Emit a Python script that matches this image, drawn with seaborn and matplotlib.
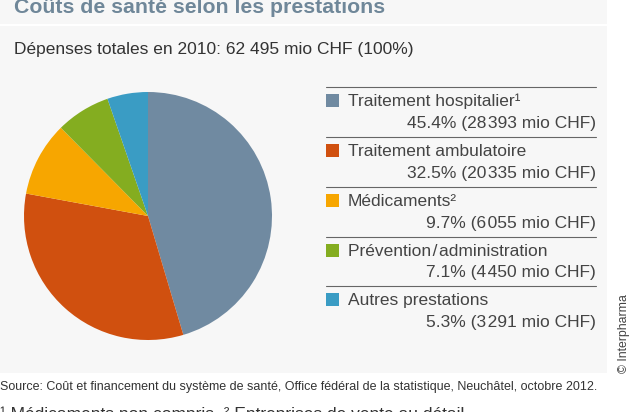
import matplotlib
matplotlib.use('Agg')
import matplotlib.pyplot as plt
from matplotlib.patches import Rectangle
import seaborn as sns

# Data
categories = ['Traitement hospitalier¹', 'Traitement ambulatoire', 'Médicaments²',
              'Prévention\u200a/\u200aadministration', 'Autres prestations']
shares = [45.4, 32.5, 9.7, 7.1, 5.3]
amounts = ['28\u200a393', '20\u200a335', '6\u200a055', '4\u200a450', '3\u200a291']
colors = ['#708AA1', '#D0500F', '#F7A600', '#84AD20', '#3A9CC4']
line_ys = [87, 137, 187, 237, 286]

sns.set_theme(style='white')
plt.rcParams['font.family'] = ['Liberation Sans', 'DejaVu Sans']

W, H = 630, 412
fig = plt.figure(figsize=(W / 100, H / 100), dpi=100, facecolor='white')

# pixel-coordinate overlay for panels and text
bg = fig.add_axes([0, 0, 1, 1])
bg.set_xlim(0, W)
bg.set_ylim(H, 0)
bg.axis('off')

# Background panels
bg.add_patch(Rectangle((0, 0), 607, 24, color='#F7F7F7', lw=0))
bg.add_patch(Rectangle((0, 26), 607, 347, color='#F7F7F7', lw=0))

bg.text(14, 7, 'Coûts de santé selon les prestations', fontsize=15.3, fontweight='bold',
        color='#6F8799', va='center')
bg.text(14, 49, 'Dépenses totales en 2010: 62 495 mio CHF (100%)', fontsize=12.55, color='#333333', va='center')

# Pie chart
cx, cy, r = 148, 216, 124
ax = fig.add_axes([(cx - r) / W, 1 - (cy + r) / H, 2 * r / W, 2 * r / H])
ax.pie(shares, colors=colors, startangle=90, counterclock=False, radius=1,
       wedgeprops={'linewidth': 0})
ax.set_xlim(-1, 1)
ax.set_ylim(-1, 1)

# Legend block
for cat, share, amount, color, y in zip(categories, shares, amounts, colors, line_ys):
    bg.plot([326, 596], [y, y], color='#666666', lw=0.8)
    bg.add_patch(Rectangle((326, y + 7), 13, 13, color=color, lw=0))
    bg.text(348, y + 14, cat, fontsize=12.55, color='#444444', va='center')
    bg.text(596, y + 36, f'{share}% ({amount} mio CHF)', fontsize=12.55, color='#444444', va='center', ha='right')

bg.text(624, 373, '© Interpharma', fontsize=8.8, color='#444444', rotation=90, va='bottom', ha='center')
bg.text(0, 387, 'Source: Coût et financement du système de santé, Office fédéral de la statistique, Neuchâtel, octobre 2012.',
        fontsize=9.02, color='#333333', va='center')
# footnote line is cut by the bottom edge in the reference too
bg.text(0, 419, '¹ Médicaments non compris  ² Entreprises de vente au détail', fontsize=12.55,
        color='#333333', va='baseline', clip_on=False)

fig.savefig('out.png', dpi=100)
